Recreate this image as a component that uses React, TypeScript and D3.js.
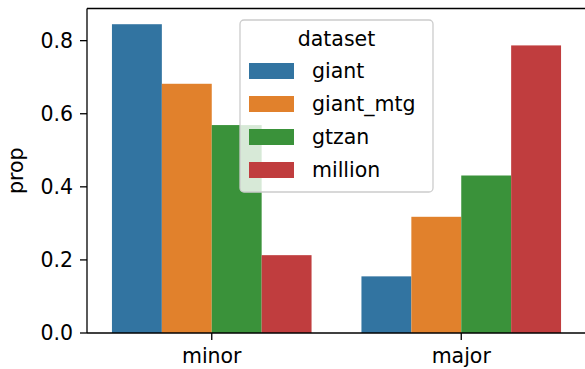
import React from "react";
import * as d3 from "d3";

const categories = ["minor", "major"];
const datasets = ["giant", "giant_mtg", "gtzan", "million"];
const colors = ["#3274a1", "#e1812c", "#3a923a", "#c03d3e"];
const minorValues = [0.845, 0.682, 0.569, 0.213];
const majorValues = [0.155, 0.318, 0.431, 0.787];
const yTicks = [0.0, 0.2, 0.4, 0.6, 0.8];

const W = 585;
const H = 369;
const left = 87;
const right = 586;
const top = 8.5;
const bottom = 333;
const FONT = "DejaVu Sans, sans-serif";
const FS = 20.5;

export default function App() {
  const seriesByCat = [minorValues, majorValues];
  const x = d3.scaleLinear().domain([-0.5, 1.5]).range([left, right]);
  const y = d3.scaleLinear().domain([0, 0.888]).range([bottom, top]);
  const unit = x(1) - x(0);
  const barW = (unit * 0.8) / datasets.length;

  const legX = 240, legY = 20, legW = 193, legH = 172;
  const rowY = [71, 104, 137, 170];

  return (
    <svg width={W} height={H} style={{ position: "absolute", left: 0, top: 0 }} fontFamily={FONT}>
      <rect width={W} height={H} fill="#fff" />
      {categories.map((c, ci) =>
        datasets.map((d, di) => {
          const v = seriesByCat[ci][di];
          const x0 = x(ci) - unit * 0.4 + di * barW;
          return (
            <rect key={c + d} x={x0} y={y(v)} width={barW} height={y(0) - y(v)} fill={colors[di]} />
          );
        })
      )}
      {/* spines */}
      <line x1={left} x2={left} y1={top} y2={bottom} stroke="#000" strokeWidth={1.3} />
      <line x1={left} x2={right} y1={bottom} y2={bottom} stroke="#000" strokeWidth={1.3} />
      <line x1={left} x2={right} y1={top} y2={top} stroke="#000" strokeWidth={1.3} />
      {/* y ticks */}
      {yTicks.map((t) => (
        <g key={t}>
          <line x1={left - 7} x2={left} y1={y(t)} y2={y(t)} stroke="#000" strokeWidth={1.3} />
          <text x={left - 14} y={y(t)} dy="0.36em" textAnchor="end" fontSize={FS} fill="#000">
            {t.toFixed(1)}
          </text>
        </g>
      ))}
      {/* x ticks */}
      {categories.map((c, ci) => (
        <g key={c}>
          <line x1={x(ci)} x2={x(ci)} y1={bottom} y2={bottom + 7} stroke="#000" strokeWidth={1.3} />
          <text x={x(ci)} y={bottom + 30} textAnchor="middle" fontSize={FS} fill="#000">
            {c}
          </text>
        </g>
      ))}
      <text
        transform={`translate(23, ${(top + bottom) / 2}) rotate(-90)`}
        textAnchor="middle"
        fontSize={FS}
        fill="#000"
      >
        prop
      </text>
      {/* legend */}
      <rect x={legX} y={legY} width={legW} height={legH} rx={4} fill="#fff" fillOpacity={0.8} stroke="#cccccc" strokeWidth={1.3} />
      <text x={legX + legW / 2} y={46} textAnchor="middle" fontSize={FS} fill="#000">
        dataset
      </text>
      {datasets.map((d, di) => (
        <g key={d}>
          <rect x={249} y={rowY[di] - 8} width={45} height={16} fill={colors[di]} />
          <text x={312} y={rowY[di]} dy="0.36em" fontSize={FS} fill="#000">
            {d}
          </text>
        </g>
      ))}
    </svg>
  );
}
